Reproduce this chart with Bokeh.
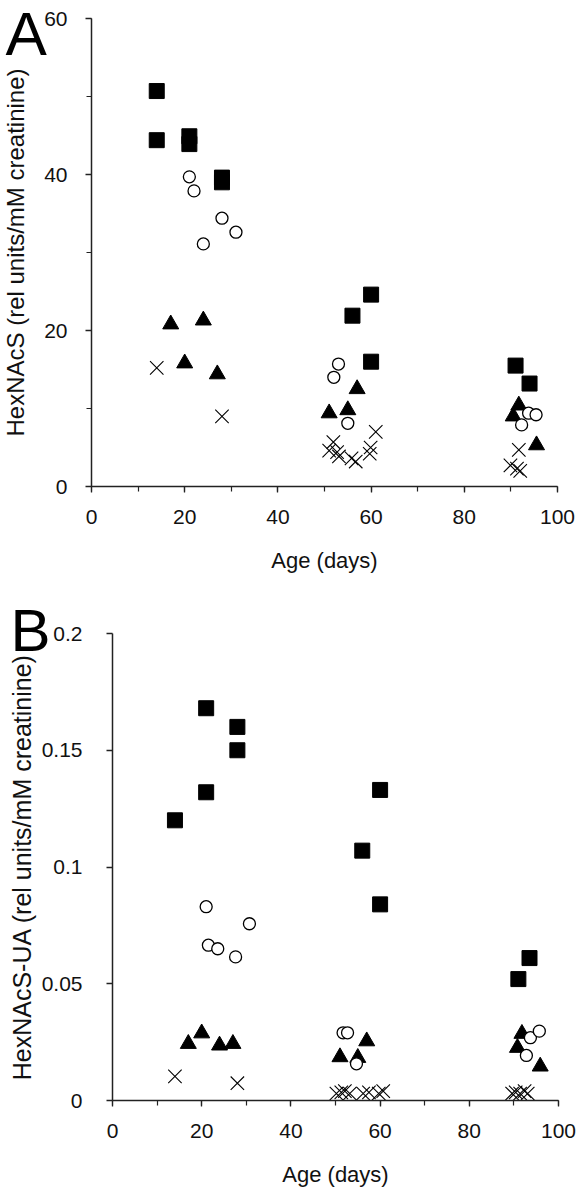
from bokeh.plotting import figure
from bokeh.layouts import column
from bokeh.models import SingleIntervalTicker, FixedTicker, Label, Range1d
from bokeh.embed import file_html
from bokeh.resources import INLINE

# ---------------- Panel A data: HexNAcS ----------------
a_sq_x = [14, 14, 21, 21, 28, 28, 56, 60, 60, 91, 94]
a_sq_y = [50.7, 44.4, 44.9, 43.9, 39.6, 39.0, 21.9, 24.6, 16.0, 15.5, 13.2]
a_ci_x = [21, 22, 24, 28, 31, 52, 53, 55, 92.3, 93.8, 95.4]
a_ci_y = [39.7, 37.9, 31.1, 34.4, 32.6, 14.0, 15.7, 8.1, 7.9, 9.4, 9.2]
a_tr_x = [17, 20, 24, 27, 51, 55, 57, 90.5, 91.7, 95.5]
a_tr_y = [20.8, 15.8, 21.3, 14.4, 9.4, 9.8, 12.5, 9.0, 10.4, 5.3]
a_x_x = [14, 28, 51, 51.9, 52.7, 53.1, 55.8, 56.7, 59.7, 59.9, 61, 89.9, 91.3, 91.7, 92]
a_x_y = [15.2, 9.0, 4.6, 5.7, 4.4, 3.85, 3.6, 3.2, 4.2, 5.0, 7.0, 2.7, 2.3, 4.7, 2.0]

# ---------------- Panel B data: HexNAcS-UA ----------------
b_sq_x = [14, 21, 21, 28, 28, 56, 60, 60, 91, 93.5]
b_sq_y = [0.120, 0.132, 0.168, 0.160, 0.150, 0.107, 0.133, 0.084, 0.052, 0.061]
b_ci_x = [21, 21.5, 23.6, 27.6, 30.7, 51.7, 52.7, 54.7, 92.8, 93.7, 95.7]
b_ci_y = [0.083, 0.0665, 0.065, 0.0615, 0.0757, 0.029, 0.029, 0.0157, 0.0193, 0.0269, 0.0297]
b_tr_x = [17, 20, 24, 27, 51, 55, 57, 90.8, 91.8, 95.9]
b_tr_y = [0.0243, 0.0288, 0.0236, 0.0243, 0.0186, 0.0183, 0.0254, 0.0226, 0.0286, 0.0146]
b_x_x = [14, 28, 50.2, 51.3, 52.1, 53.2, 56.2, 57.5, 59.7, 60.7, 89.6, 90.4, 91.4, 92.4, 93.1]
b_x_y = [0.0103, 0.0074, 0.003, 0.0035, 0.004, 0.003, 0.003, 0.0035, 0.003, 0.004, 0.003, 0.0035, 0.003, 0.004, 0.003]

# axes extents and ticks
x_bounds = (0, 100)
a_y_bounds = (0, 60)
b_y_bounds = (0, 0.2)
b_y_ticks = [0, 0.05, 0.1, 0.15, 0.2]
b_y_labels = ["0", "0.05", "0.1", "0.15", "0.2"]

FONT = "Liberation Sans"
INK = "#111111"
W = 578


def span(lo_px, hi_px, v_lo, v_hi, full_a, full_b):
    """data values at pixel positions full_a and full_b, given v_lo at lo_px and v_hi at hi_px."""
    k = (hi_px - lo_px) / (v_hi - v_lo)
    return (v_lo + (full_a - lo_px) / k, v_lo + (full_b - lo_px) / k)


def style_axes(p, ylabel, ybounds, ylab_size, ylab_standoff, ytick_standoff):
    for ax in (p.xaxis[0], p.yaxis[0]):
        ax.fixed_location = 0
        ax.axis_line_color = "#222222"
        ax.axis_line_width = 1.5
        ax.major_tick_line_color = "#222222"
        ax.major_tick_line_width = 1.3
        ax.minor_tick_line_color = "#222222"
        ax.minor_tick_line_width = 1.2
        ax.major_tick_in = 0
        ax.minor_tick_in = 0
        ax.major_tick_out = 6
        ax.minor_tick_out = 5
        ax.major_label_text_font = FONT
        ax.major_label_text_color = INK
        ax.major_label_text_font_size = "21px"
        ax.axis_label_text_font = FONT
        ax.axis_label_text_color = INK
        ax.axis_label_text_font_style = "normal"
    p.xaxis.bounds = x_bounds
    p.xaxis.major_label_standoff = 17
    p.xaxis.axis_label = "Age (days)"
    p.xaxis.axis_label_text_font_size = "22px"
    p.xaxis.axis_label_standoff = 21
    p.xaxis.ticker = SingleIntervalTicker(interval=20, num_minor_ticks=2)
    p.yaxis.bounds = ybounds
    p.yaxis.major_label_standoff = ytick_standoff
    p.yaxis.axis_label = ylabel
    p.yaxis.axis_label_text_font_size = ylab_size
    p.yaxis.axis_label_standoff = ylab_standoff
    p.xgrid.visible = False
    p.ygrid.visible = False
    p.outline_line_color = None


def draw(p, sx, sy, cx, cy, tx, ty, xx, xy):
    p.scatter(xx, xy, marker="x", size=19, line_color="black", line_width=1.1)
    p.scatter(tx, ty, marker="triangle", size=16, fill_color="black", line_color="black")
    p.scatter(cx, cy, marker="circle", size=12, fill_color="white", line_color="black", line_width=1.3)
    p.scatter(sx, sy, marker="square", size=15, fill_color="black", line_color="black")


# ---------------- Figure A (page y 0..596) ----------------
HA = 596
xrA = span(91, 557, 0, 100, 0, W)
yrA = span(486, 18, 0, 60, HA, 0)
pA = figure(width=W, height=HA, output_backend="svg", toolbar_location=None,
            x_range=Range1d(*xrA), y_range=Range1d(*yrA), min_border=0)
style_axes(pA, "HexNAcS (rel units/mM creatinine)", a_y_bounds, "24px", 12, 18)
pA.yaxis.ticker = SingleIntervalTicker(interval=20, num_minor_ticks=2)
draw(pA, a_sq_x, a_sq_y, a_ci_x, a_ci_y, a_tr_x, a_tr_y, a_x_x, a_x_y)
pA.add_layout(Label(x=-18.45, y=58.14, text="A", text_font=FONT, text_font_size="62px",
                    text_color="black", text_baseline="middle", text_align="left"))

# ---------------- Figure B (page y 596..1192) ----------------
HB = 596
xrB = span(112, 558, 0, 100, 0, W)
yrB = span(1100, 633, 0, 0.2, 596 + HB, 596)
pB = figure(width=W, height=HB, output_backend="svg", toolbar_location=None,
            x_range=Range1d(*xrB), y_range=Range1d(*yrB), min_border=0)
style_axes(pB, "HexNAcS-UA (rel units/mM creatinine)", b_y_bounds, "25px", 3, 24)
pB.yaxis.ticker = FixedTicker(ticks=b_y_ticks, minor_ticks=[])
pB.yaxis.major_label_overrides = dict(zip(b_y_ticks, b_y_labels))
draw(pB, b_sq_x, b_sq_y, b_ci_x, b_ci_y, b_tr_x, b_tr_y, b_x_x, b_x_y)
pB.add_layout(Label(x=-22.87, y=0.2013, text="B", text_font=FONT, text_font_size="60px",
                    text_color="black", text_baseline="middle", text_align="left"))

layout = column(pA, pB, spacing=0)
open("out.html", "w").write(file_html(layout, INLINE))
